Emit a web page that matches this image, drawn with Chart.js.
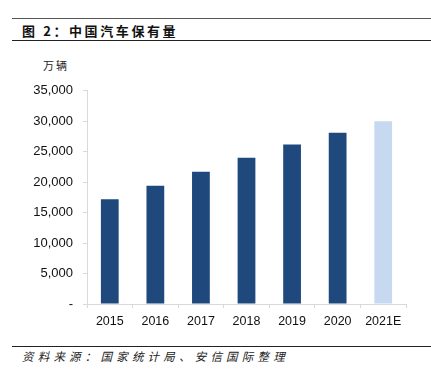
<!DOCTYPE html>
<html>
<head>
<meta charset="utf-8">
<script src="https://cdn.jsdelivr.net/npm/chart.js@4.4.0/dist/chart.umd.min.js"></script>
<style>
  body { margin: 0; background: #fff; width: 431px; height: 374px; position: relative; overflow: hidden;
         font-family: "Liberation Sans", Arial, "Noto Sans CJK SC", sans-serif; }
  .rule { position: absolute; left: 12px; right: 0; height: 1px; }
  #title { position: absolute; left: 22px; top: 23px; font-size: 13px; font-weight: bold; letter-spacing: 2.6px;
           font-family: "Noto Sans CJK SC", sans-serif; color: #111; line-height: 16px; }
  #unit { position: absolute; left: 43px; top: 58px; font-size: 11px; letter-spacing: 2px;
          font-family: "Noto Sans CJK SC", sans-serif; color: #222; line-height: 14px; }
  #source { position: absolute; left: 22px; top: 348px; font-size: 11.5px; font-style: italic; letter-spacing: 4.2px;
            font-family: "Noto Sans CJK SC", sans-serif; color: #222; line-height: 16px; }
  #box { position: absolute; left: 0; top: 73px; width: 420px; height: 267px; }
</style>
</head>
<body>
<div class="rule" style="top:18px;background:#555;"></div>
<div id="title">图 2：中国汽车保有量</div>
<div class="rule" style="top:40px;background:#222;"></div>
<div id="unit">万辆</div>
<div id="box"><canvas id="chart"></canvas></div>
<div class="rule" style="top:346px;background:#222;"></div>
<div id="source">资料来源：国家统计局、安信国际整理</div>

<script>
var years = ['2015', '2016', '2017', '2018', '2019', '2020', '2021E'];
var carStock = [17200, 19400, 21700, 24000, 26200, 28100, 30000];
var barColors = ['#1f497d', '#1f497d', '#1f497d', '#1f497d', '#1f497d', '#1f497d', '#c6d9f1'];

var ctx = document.getElementById('chart');
var chart = new Chart(ctx, {
    type: 'bar',
    data: {
        labels: years,
        datasets: [
            {
                label: '汽车保有量',
                data: carStock,
                backgroundColor: barColors,
                categoryPercentage: 1,
                barPercentage: 0.39
            }
        ]
    },
    options: {
        responsive: true,
        maintainAspectRatio: false,
        animation: false,
        layout: { padding: { top: 3.5, right: 14, left: 0, bottom: 0 } },
        plugins: {
            legend: { display: false },
            tooltip: { enabled: false }
        },
        scales: {
            x: {
                grid: { offset: true, drawOnChartArea: false, color: '#d9d9d9', tickLength: 4 },
                border: { color: '#d9d9d9' },
                ticks: { color: '#111', padding: 6, font: { size: 12.5, family: '"Liberation Sans", Arial' } },
                afterFit: function (axis) { axis.height = 36; }
            },
            y: {
                min: 0,
                max: 35000,
                ticks: {
                    stepSize: 5000,
                    color: '#111',
                    padding: 10,
                    font: { size: 13, family: '"Liberation Sans", Arial' },
                    callback: function (v) { return v === 0 ? '-' : v.toLocaleString('en-US'); }
                },
                grid: { drawOnChartArea: false, color: '#d9d9d9', tickLength: 4 },
                border: { color: '#d9d9d9' },
                afterFit: function (axis) { axis.width = 87; }
            }
        }
    }
});
</script>
</body>
</html>
